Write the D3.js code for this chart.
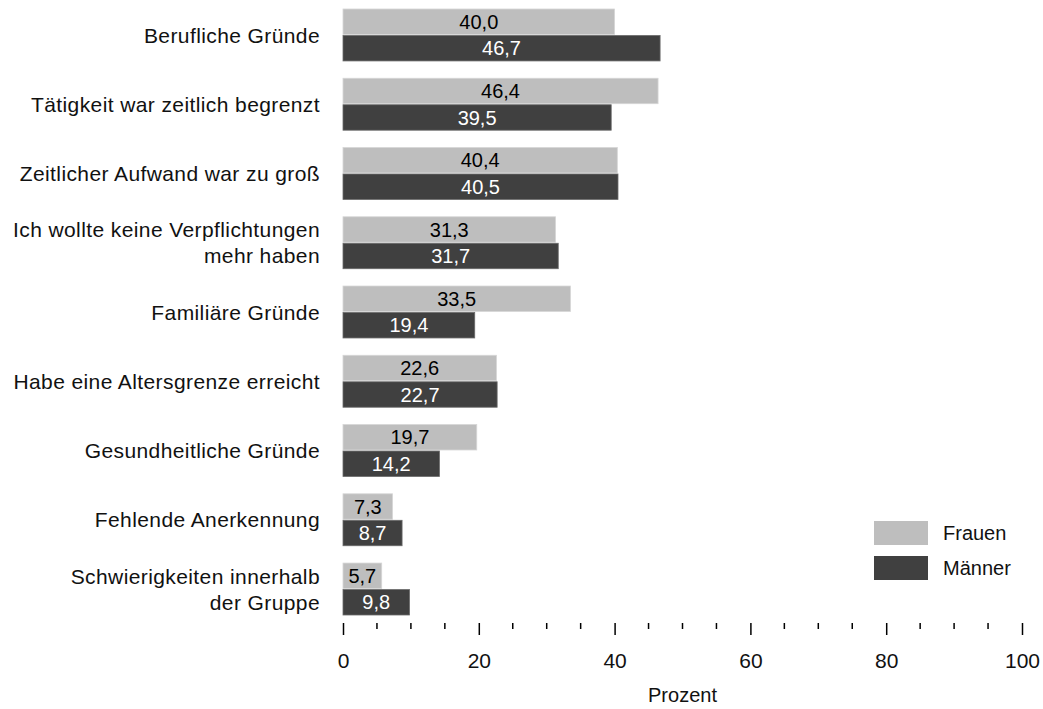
<!DOCTYPE html>
<html>
<head>
<meta charset="utf-8">
<script src="https://cdn.jsdelivr.net/npm/d3@7"></script>
<style>
  html, body { margin: 0; padding: 0; background: #ffffff; }
  svg { display: block; font-family: "Liberation Sans", Arial, sans-serif; }
</style>
</head>
<body>
<svg id="chart" width="1043" height="709"></svg>
<script>
// Gründe für die Beendigung des Engagements, nach Geschlecht (in Prozent)
const categories = [
  ["Berufliche Gründe"],
  ["Tätigkeit war zeitlich begrenzt"],
  ["Zeitlicher Aufwand war zu groß"],
  ["Ich wollte keine Verpflichtungen", "mehr haben"],
  ["Familiäre Gründe"],
  ["Habe eine Altersgrenze erreicht"],
  ["Gesundheitliche Gründe"],
  ["Fehlende Anerkennung"],
  ["Schwierigkeiten innerhalb", "der Gruppe"]
];
const frauen = [40.0, 46.4, 40.4, 31.3, 33.5, 22.6, 19.7, 7.3, 5.7];
const maenner = [46.7, 39.5, 40.5, 31.7, 19.4, 22.7, 14.2, 8.7, 9.8];
const seriesNames = ["Frauen", "Männer"];
const seriesColors = ["#bebebe", "#404040"];
const labelColors = ["#000000", "#ffffff"];
const majorTicks = [0, 20, 40, 60, 80, 100];
const minorTicks = d3.range(0, 101, 5).filter(v => v % 20 !== 0);
const axisTitle = "Prozent";

const svg = d3.select("#chart");
const fmt = v => v.toFixed(1).replace(".", ",");
const FS = 20;
const FS_CAT = 21;

const x = d3.scaleLinear().domain([0, 100]).range([343, 1022]);
const y = d3.scaleBand().domain(d3.range(categories.length)).range([9, 615]).paddingInner(0.25).paddingOuter(0);
const sub = d3.scaleBand().domain([0, 1]).range([0, y.bandwidth()]).paddingInner(0.04);

const series = [frauen, maenner];
const g = svg.append("g");

series.forEach((vals, si) => {
  const grp = g.append("g");
  grp.selectAll("rect").data(vals).join("rect")
    .attr("x", x(0))
    .attr("y", (d, i) => y(i) + sub(si))
    .attr("width", d => x(d) - x(0))
    .attr("height", sub.bandwidth())
    .attr("fill", seriesColors[si])
    .attr("stroke", si === 0 ? "#d6d6d6" : "#6a6a6a")
    .attr("stroke-width", 0.8);
  grp.selectAll("text").data(vals).join("text")
    .attr("x", d => (x(d) + x(0)) / 2)
    .attr("y", (d, i) => y(i) + sub(si) + sub.bandwidth() / 2)
    .attr("dy", "0.36em")
    .attr("text-anchor", "middle")
    .attr("font-size", FS)
    .attr("fill", labelColors[si])
    .text(fmt);
});

// category labels
const cat = svg.append("g");
categories.forEach((lines, i) => {
  const cy = y(i) + y.bandwidth() / 2;
  const t = cat.append("text")
    .attr("text-anchor", "end")
    .attr("font-size", FS_CAT)
    .attr("letter-spacing", 0.4)
    .attr("fill", "#111");
  lines.forEach((ln, li) => {
    t.append("tspan")
      .attr("x", 320)
      .attr("y", cy + (li - (lines.length - 1) / 2) * 26)
      .attr("dy", "0.36em")
      .text(ln);
  });
});

// x axis: ticks only, no baseline
const axisY = 623;
const axis = d3.axisBottom(x).tickValues(majorTicks).tickSize(12).tickPadding(18).tickFormat(d3.format("d"));
const ax = svg.append("g").attr("transform", `translate(0,${axisY})`).call(axis);
ax.select(".domain").remove();
ax.selectAll(".tick line").attr("stroke", "#000").attr("stroke-width", 1.5);
ax.selectAll(".tick text").attr("font-size", FS_CAT).attr("fill", "#111")
  .attr("font-family", "'Liberation Sans', Arial, sans-serif");
svg.append("g").selectAll("line").data(minorTicks).join("line")
  .attr("x1", d => x(d)).attr("x2", d => x(d))
  .attr("y1", axisY).attr("y2", axisY + 6)
  .attr("stroke", "#000").attr("stroke-width", 1.5);

svg.append("text")
  .attr("x", (x(0) + x(100)) / 2)
  .attr("y", 695)
  .attr("dy", "0.36em")
  .attr("text-anchor", "middle")
  .attr("font-size", FS)
  .attr("fill", "#111")
  .text(axisTitle);

// legend
const leg = svg.append("g");
seriesNames.forEach((name, i) => {
  const ly = 521 + i * 35;
  leg.append("rect").attr("x", 874).attr("y", ly).attr("width", 54).attr("height", 24)
    .attr("fill", seriesColors[i]);
  leg.append("text").attr("x", 943).attr("y", ly + 12).attr("dy", "0.36em")
    .attr("font-size", FS).attr("fill", "#111").text(name);
});
</script>
</body>
</html>
